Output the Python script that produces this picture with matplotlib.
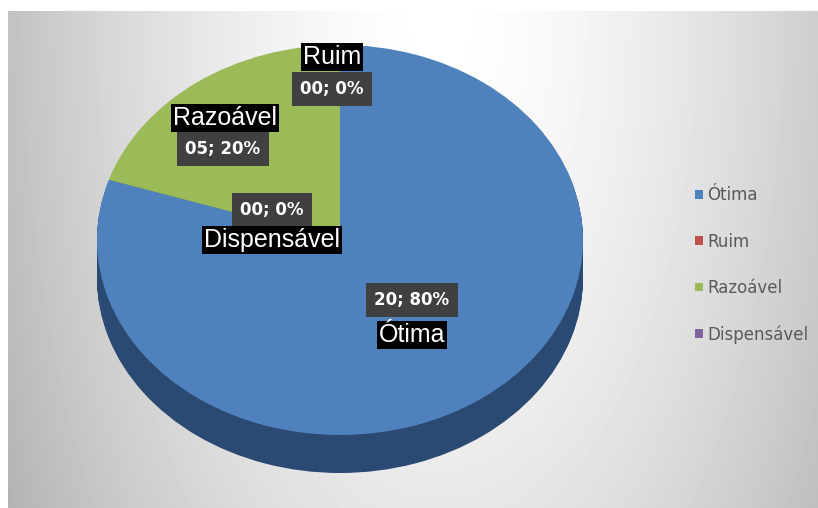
import numpy as np
import matplotlib
matplotlib.use("Agg")
import matplotlib.pyplot as plt

# data
categories = ["Ótima", "Ruim", "Razoável", "Dispensável"]
values = [20, 0, 5, 0]
percents = [80, 0, 20, 0]

top_colors = ["#4f81bd", "#c0504d", "#9bbb59", "#8064a2"]
side_colors = ["#2b4a73", "#8a3836", "#6f8740", "#5b4775"]

W, H = 818, 508
fig = plt.figure(figsize=(W / 100, H / 100), dpi=100)
fig.patch.set_facecolor("white")

# gradient background (grey at the sides, white near top centre)
bg = fig.add_axes([8 / W, 0, (W - 8) / W, (H - 11) / H])
bg.axis("off")
yy, xx = np.mgrid[0:H - 11, 8:W]
r = np.sqrt(((xx - 440) / 430.0) ** 2 + (yy / 900.0) ** 2)
shade = 1 - 0.24 * np.clip(r, 0, 1.15) ** 1.6
bg.imshow(shade, cmap="gray", vmin=0, vmax=1, aspect="auto",
          extent=(0, 1, 0, 1), interpolation="bilinear")
bg.set_xlim(0, 1)
bg.set_ylim(0, 1)

# pie (elliptical top face + extruded side)
cx0, cx1, top_px, bot_px = 97, 583, 45, 473
ry_px = 195
depth = (bot_px - top_px - 2 * ry_px) / ry_px
ax = fig.add_axes([cx0 / W, 1 - bot_px / H, (cx1 - cx0) / W, (bot_px - top_px) / H])
for d in np.linspace(depth, 0, 40)[:-1]:
    ax.pie(values, colors=side_colors, startangle=90, counterclock=False,
           center=(0, -d), radius=1, wedgeprops=dict(linewidth=0))
wedges, _ = ax.pie(values, colors=top_colors, startangle=90, counterclock=False,
                   center=(0, 0), radius=1, wedgeprops=dict(linewidth=0))
ax.set_aspect("auto")
ax.set_xlim(-1, 1)
ax.set_ylim(-1 - depth, 1)
ax.axis("off")

# data labels: (name x, name y, value x, value y) in pixels
label_pos = [
    (412, 335, 412, 300),
    (332, 57, 332, 89),
    (225, 118, 223, 149),
    (272, 240, 272, 210),
]
for cat, v, p, (nx, ny, vx, vy) in zip(categories, values, percents, label_pos):
    fig.text(vx / W, 1 - vy / H, f"{v:02d}; {p}%", color="white", fontsize=12,
             fontweight="bold", ha="center", va="center",
             bbox=dict(boxstyle="square,pad=0.5", fc="#404040", ec="none"))
    fig.text(nx / W, 1 - ny / H, cat, color="white", fontsize=18,
             family="Liberation Sans", ha="center", va="center",
             bbox=dict(boxstyle="square,pad=0.08", fc="black", ec="none"))

fig.legend(wedges, categories, loc="center left",
           bbox_to_anchor=(680 / W, 1 - 265 / H), frameon=False,
           fontsize=12, labelcolor="#595959", handlelength=0.45,
           handleheight=0.45, handletextpad=0.3, labelspacing=1.7)

fig.savefig("out.png", dpi=100)
